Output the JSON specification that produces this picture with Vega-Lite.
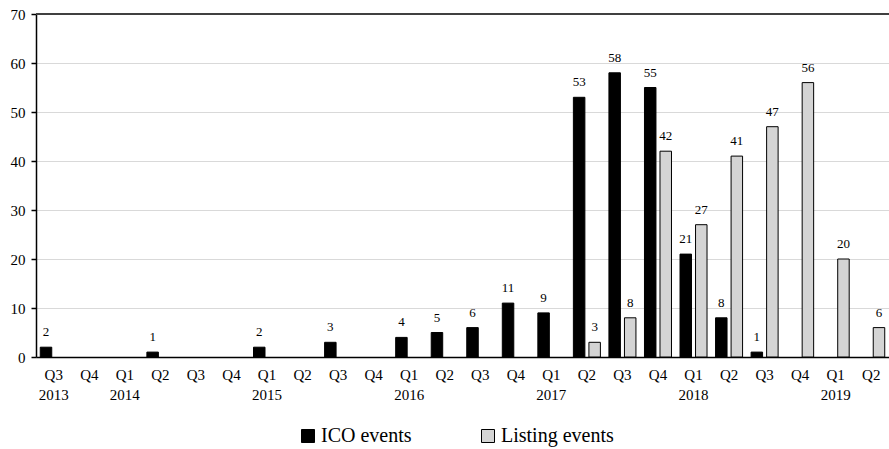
{
  "$schema": "https://vega.github.io/schema/vega-lite/v6.json",
  "autosize": {"type": "none"},
  "padding": {"left": 36, "top": 14, "right": 0, "bottom": 92},
  "width": 853,
  "height": 343,
  "background": "white",
  "config": {
    "view": {"stroke": null},
    "font": "Liberation Serif"
  },
  "data": {
    "values": [
      {"quarter": "Q3 2013", "series": "ICO events", "count": 2},
      {"quarter": "Q2 2014", "series": "ICO events", "count": 1},
      {"quarter": "Q1 2015", "series": "ICO events", "count": 2},
      {"quarter": "Q3 2015", "series": "ICO events", "count": 3},
      {"quarter": "Q1 2016", "series": "ICO events", "count": 4},
      {"quarter": "Q2 2016", "series": "ICO events", "count": 5},
      {"quarter": "Q3 2016", "series": "ICO events", "count": 6},
      {"quarter": "Q4 2016", "series": "ICO events", "count": 11},
      {"quarter": "Q1 2017", "series": "ICO events", "count": 9},
      {"quarter": "Q2 2017", "series": "ICO events", "count": 53},
      {"quarter": "Q3 2017", "series": "ICO events", "count": 58},
      {"quarter": "Q4 2017", "series": "ICO events", "count": 55},
      {"quarter": "Q1 2018", "series": "ICO events", "count": 21},
      {"quarter": "Q2 2018", "series": "ICO events", "count": 8},
      {"quarter": "Q3 2018", "series": "ICO events", "count": 1},
      {"quarter": "Q2 2017", "series": "Listing events", "count": 3},
      {"quarter": "Q3 2017", "series": "Listing events", "count": 8},
      {"quarter": "Q4 2017", "series": "Listing events", "count": 42},
      {"quarter": "Q1 2018", "series": "Listing events", "count": 27},
      {"quarter": "Q2 2018", "series": "Listing events", "count": 41},
      {"quarter": "Q3 2018", "series": "Listing events", "count": 47},
      {"quarter": "Q4 2018", "series": "Listing events", "count": 56},
      {"quarter": "Q1 2019", "series": "Listing events", "count": 20},
      {"quarter": "Q2 2019", "series": "Listing events", "count": 6}
    ]
  },
  "encoding": {
    "x": {
      "field": "quarter",
      "type": "ordinal",
      "sort": null,
      "scale": {
        "domain": ["Q3 2013", "Q4 2013", "Q1 2014", "Q2 2014", "Q3 2014", "Q4 2014", "Q1 2015", "Q2 2015", "Q3 2015", "Q4 2015", "Q1 2016", "Q2 2016", "Q3 2016", "Q4 2016", "Q1 2017", "Q2 2017", "Q3 2017", "Q4 2017", "Q1 2018", "Q2 2018", "Q3 2018", "Q4 2018", "Q1 2019", "Q2 2019"],
        "paddingInner": 0.24,
        "paddingOuter": 0.12
      },
      "axis": {
        "title": null,
        "labelAngle": 0,
        "labelFont": "Liberation Serif",
        "labelFontSize": 15,
        "labelColor": "black",
        "labelLineHeight": 20,
        "labelPadding": 10,
        "ticks": false,
        "domainColor": "black",
        "domainWidth": 1.5,
        "labelExpr": "(split(datum.value, ' ')[0] == 'Q1' || datum.value == 'Q3 2013') ? split(datum.value, ' ') : split(datum.value, ' ')[0]"
      }
    },
    "xOffset": {
      "field": "series",
      "type": "nominal",
      "scale": {"domain": ["ICO events", "Listing events"], "paddingInner": 0.26, "paddingOuter": 0}
    },
    "y": {
      "field": "count",
      "type": "quantitative",
      "scale": {"domain": [0, 70], "nice": false},
      "axis": {
        "title": null,
        "values": [0, 10, 20, 30, 40, 50, 60, 70],
        "labelFont": "Liberation Serif",
        "labelFontSize": 15,
        "labelColor": "black",
        "labelPadding": 6,
        "tickSize": 5,
        "tickColor": "black",
        "tickWidth": 1.5,
        "domainColor": "black",
        "domainWidth": 1.5,
        "gridColor": "#d9d9d9",
        "gridWidth": 1
      }
    }
  },
  "layer": [
    {
      "mark": {"type": "bar", "stroke": "black", "strokeWidth": 1},
      "encoding": {
        "color": {
          "field": "series",
          "type": "nominal",
          "scale": {"domain": ["ICO events", "Listing events"], "range": ["#000000", "#d4d4d4"]},
          "legend": {
            "title": null,
            "orient": "none",
            "direction": "horizontal",
            "legendX": 262,
            "legendY": 412,
            "symbolType": "square",
            "symbolSize": 169,
            "symbolStrokeColor": "black",
            "symbolStrokeWidth": 1,
            "labelFont": "Liberation Serif",
            "labelFontSize": 20,
            "labelColor": "black",
            "labelOffset": 3,
            "columnPadding": 66
          }
        }
      }
    },
    {
      "mark": {"type": "text", "baseline": "alphabetic", "dy": -11, "fontSize": 13, "color": "black", "font": "Liberation Serif"},
      "encoding": {"text": {"field": "count", "type": "quantitative"}}
    },
    {
      "mark": {"type": "rule", "color": "#404040", "strokeWidth": 1.5},
      "encoding": {"y": {"datum": 70}, "x": null, "xOffset": null}
    }
  ]
}
